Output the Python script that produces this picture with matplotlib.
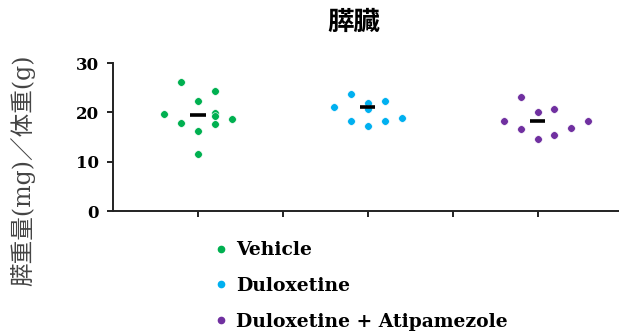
import matplotlib
matplotlib.use("Agg")
import matplotlib.pyplot as plt
from matplotlib.lines import Line2D

plt.rcParams['font.family'] = ['DejaVu Serif', 'Noto Sans CJK JP']

groups = ["Vehicle", "Duloxetine", "Duloxetine + Atipamezole"]
colors = ["#00B050", "#00B0F0", "#7030A0"]

# horizontal offsets (in group units) and pancreas weight values per animal
vehicle_dx = [-0.2, -0.1, -0.1, 0.0, 0.0, 0.0, 0.1, 0.1, 0.1, 0.1, 0.2]
vehicle_y = [19.6, 26.1, 17.8, 22.4, 16.2, 11.6, 24.4, 19.8, 19.3, 17.6, 18.7]

dulox_dx = [-0.2, -0.1, -0.1, 0.0, 0.0, 0.0, 0.1, 0.1, 0.2]
dulox_y = [21.1, 23.8, 18.3, 21.9, 20.8, 17.2, 22.4, 18.2, 18.9]

atip_dx = [-0.2, -0.1, -0.1, 0.0, 0.0, 0.1, 0.1, 0.2, 0.3]
atip_y = [18.2, 23.2, 16.6, 20.0, 14.6, 20.7, 15.4, 16.8, 18.3]

mean_lines = [19.4, 21.1, 18.3]

fig = plt.figure(figsize=(6.19, 3.34), dpi=100)
ax = fig.add_axes([0.1826, 0.368, 0.8174, 0.443])

all_dx = [vehicle_dx, dulox_dx, atip_dx]
all_y = [vehicle_y, dulox_y, atip_y]
for i, (dx, ys) in enumerate(zip(all_dx, all_y)):
    xs = [i + 1 + d for d in dx]
    ax.scatter(xs, ys, s=30, color=colors[i], edgecolors="white", linewidths=0.4, zorder=3)
    ax.plot([i + 1 - 0.045, i + 1 + 0.045], [mean_lines[i]] * 2, color="black", lw=2.6, zorder=4,
            solid_capstyle="butt")

ax.set_xlim(0.5, 3.48)
ax.set_ylim(0, 30)
ax.set_xticks([1, 1.5, 2, 2.5, 3])
ax.set_xticklabels([])
ax.set_yticks([0, 10, 20, 30])
for s in ["top", "right"]:
    ax.spines[s].set_visible(False)
for s in ["left", "bottom"]:
    ax.spines[s].set_linewidth(1.4)
    ax.spines[s].set_color("#222222")
ax.tick_params(axis="both", direction="out", length=4, width=1.4, color="#222222")
ax.tick_params(axis="y", labelsize=12, pad=6)
for lbl in ax.get_yticklabels():
    lbl.set_fontweight("bold")

fig.text(0.572, 0.932, "膵臓", ha="center", va="center", fontsize=19, fontweight="bold",
         family=["Noto Sans CJK JP"])
fig.text(0.036, 0.49, "膵重量(mg)／体重(g)", ha="center", va="center", rotation=90,
         fontsize=17, family=["DejaVu Serif", "Noto Sans CJK JP"], color="#444444")

handles = [Line2D([], [], ls="", marker="o", markersize=4.5, color=c) for c in colors]
fig.legend(handles, groups, loc="upper left", bbox_to_anchor=(0.348, 0.278),
           bbox_transform=fig.transFigure, frameon=False, handlelength=0.6,
           handletextpad=0.5, labelspacing=0.95, borderpad=0, borderaxespad=0,
           prop={"family": "DejaVu Serif", "weight": "bold", "size": 13.5})

fig.savefig("out.png", dpi=100)
